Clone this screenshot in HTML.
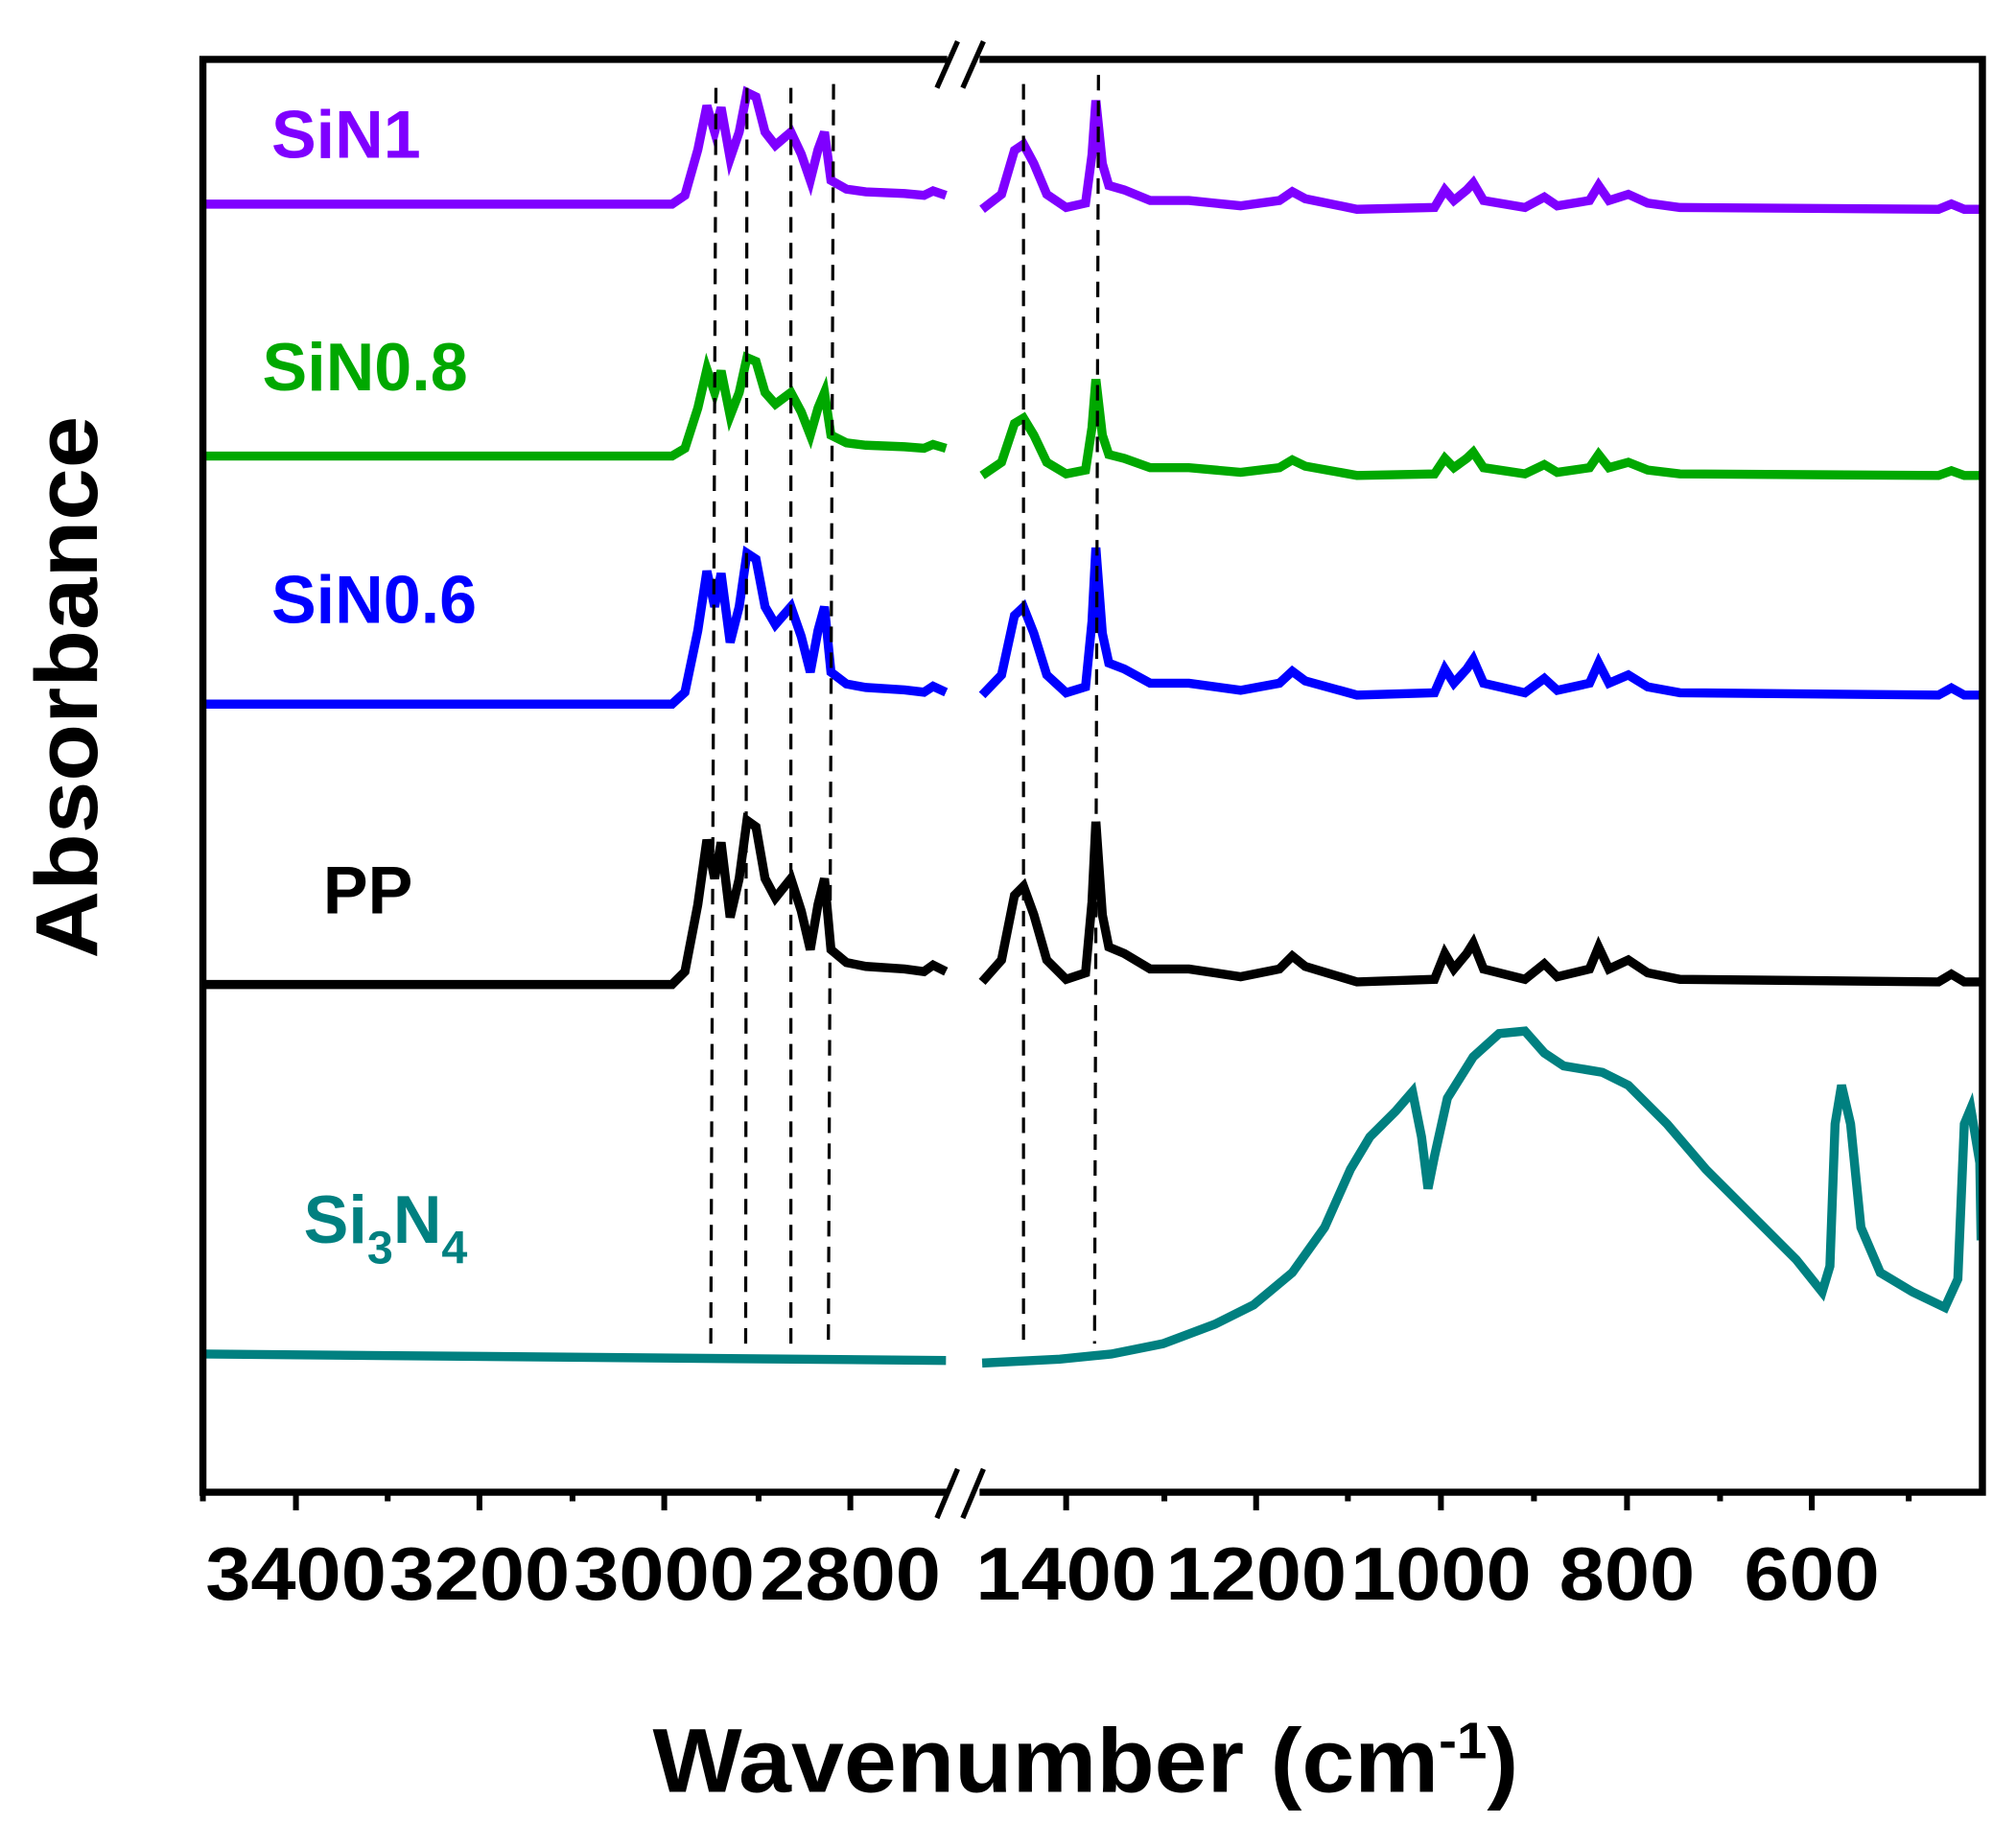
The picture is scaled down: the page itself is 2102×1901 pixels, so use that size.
<!DOCTYPE html>
<html><head><meta charset="utf-8"><style>
html,body{margin:0;padding:0;background:#fff;}
svg{display:block;}
text{font-family:"Liberation Sans",Arial,sans-serif;font-weight:bold;}
</style></head><body>
<svg id="s" width="2102" height="1901" viewBox="0 0 1560 1411" preserveAspectRatio="none" xmlns="http://www.w3.org/2000/svg">
<rect x="0" y="0" width="1560" height="1411" fill="#fff"/>
<g id="curves" fill="none" stroke-width="7" stroke-linejoin="miter"></g>
<g stroke="#000" stroke-width="2.4" stroke-dasharray="12,8">
<line x1="554" y1="68" x2="550" y2="1045"/>
<line x1="578" y1="68" x2="577" y2="1045"/>
<line x1="612" y1="68" x2="612" y2="1042"/>
<line x1="645" y1="65" x2="641" y2="1040"/>
<line x1="792" y1="65" x2="792" y2="1040"/>
<line x1="850" y1="58" x2="847" y2="1040"/>
</g>
<g stroke="#000" stroke-width="5.5" fill="none">
<polyline points="733,46 157,46 157,1155 733,1155"/>
<polyline points="758,46 1534,46 1534,1155 758,1155"/>
</g>
<g stroke="#000" stroke-width="4">
<line x1="725" y1="68" x2="741" y2="32"/>
<line x1="745" y1="68" x2="761" y2="32"/>
<line x1="725" y1="1175" x2="741" y2="1137"/>
<line x1="745" y1="1175" x2="761" y2="1137"/>
</g>
<g id="ticks" stroke="#000" stroke-width="4.5"></g>
<g font-size="58" text-anchor="middle" fill="#000" id="tl"></g>
<text x="840" y="1387" font-size="70" text-anchor="middle" textLength="670" lengthAdjust="spacingAndGlyphs">Wavenumber (cm<tspan dy="-26" font-size="40">-1</tspan><tspan dy="26">)</tspan></text>
<text transform="translate(75,532) rotate(-90)" font-size="68" text-anchor="middle" textLength="420" lengthAdjust="spacingAndGlyphs">Absorbance</text>
<text x="210" y="122" font-size="52" fill="#7f00ff">SiN1</text>
<text x="203" y="302" font-size="52" fill="#00a800">SiN0.8</text>
<text x="210" y="482" font-size="52" fill="#0000ff">SiN0.6</text>
<text x="250" y="707" font-size="52" fill="#000">PP</text>
<text x="235" y="962" font-size="52" fill="#008080">Si<tspan dy="16" font-size="36">3</tspan><tspan dy="-16">N</tspan><tspan dy="16" font-size="36">4</tspan></text>
</svg>
<script>
var NS="http://www.w3.org/2000/svg";
var L=[[157,762],[520,762],[530,752],[540,700],[547,650],[553,680],[558,652],[565,710],[572,680],[578,635],[585,640],[592,680],[600,695],[612,680],[620,705],[627,735],[633,700],[638,680],[643,735],[655,745],[670,748],[700,750],[715,752],[722,747],[732,752]];
var R=[[760,762],[775,745],[785,695],[792,688],[800,710],[810,745],[825,760],[840,755],[845,700],[848,638],[853,710],[858,735],[870,740],[890,752],[920,752],[960,758],[990,752],[1000,742],[1010,750],[1050,762],[1110,760],[1118,740],[1125,752],[1135,740],[1140,732],[1148,752],[1180,760],[1195,748],[1205,758],[1230,752],[1237,735],[1245,752],[1260,745],[1275,755],[1300,760],[1500,762],[1510,756],[1520,762],[1533,762]];
function add(pts,col){var p=document.createElementNS(NS,"polyline");p.setAttribute("points",pts.map(function(a){return a[0]+","+a[1].toFixed(1)}).join(" "));p.setAttribute("stroke",col);document.getElementById("curves").appendChild(p);}
function tr(arr,b,s){return arr.map(function(a){return [a[0],b+(a[1]-762)*s];});}
var sets=[["#7f00ff",158,162,0.68],["#00a800",353,368,0.6],["#0000ff",545,538,0.92],["#000",762,760,1]];
sets.forEach(function(c){add(tr(L,c[1],c[3]),c[0]);add(tr(R,c[2],c[3]),c[0]);});
add([[157,1048],[732,1053]],"#008080");
add([[760,1055],[820,1052],[860,1048],[900,1040],[940,1025],[970,1010],[1000,985],[1025,950],[1045,905],[1060,880],[1080,860],[1093,845],[1100,880],[1105,920],[1110,895],[1120,850],[1140,818],[1160,800],[1180,798],[1195,815],[1210,825],[1240,830],[1260,840],[1290,870],[1320,905],[1360,945],[1390,975],[1410,1000],[1416,980],[1420,870],[1425,840],[1432,870],[1440,950],[1455,985],[1480,1000],[1505,1012],[1515,990],[1520,870],[1525,858],[1532,900],[1533,960]],"#008080");
var tg=document.getElementById("ticks"),tl=document.getElementById("tl");
function tick(x,len){var l=document.createElementNS(NS,"line");l.setAttribute("x1",x);l.setAttribute("x2",x);l.setAttribute("y1",1155);l.setAttribute("y2",1155+len);tg.appendChild(l);}
function lab(x,t){var e=document.createElementNS(NS,"text");e.setAttribute("x",x);e.setAttribute("y",1238);e.setAttribute("textLength",t.length*35);e.setAttribute("lengthAdjust","spacingAndGlyphs");e.textContent=t;tl.appendChild(e);}
[[229,"3400"],[371,"3200"],[514,"3000"],[658,"2800"],[825,"1400"],[972,"1200"],[1115,"1000"],[1259,"800"],[1402,"600"]].forEach(function(a){tick(a[0],14);lab(a[0],a[1]);});
[157,300,443,587,901,1043,1187,1331,1477].forEach(function(x){tick(x,7);});
</script>
</body></html>
